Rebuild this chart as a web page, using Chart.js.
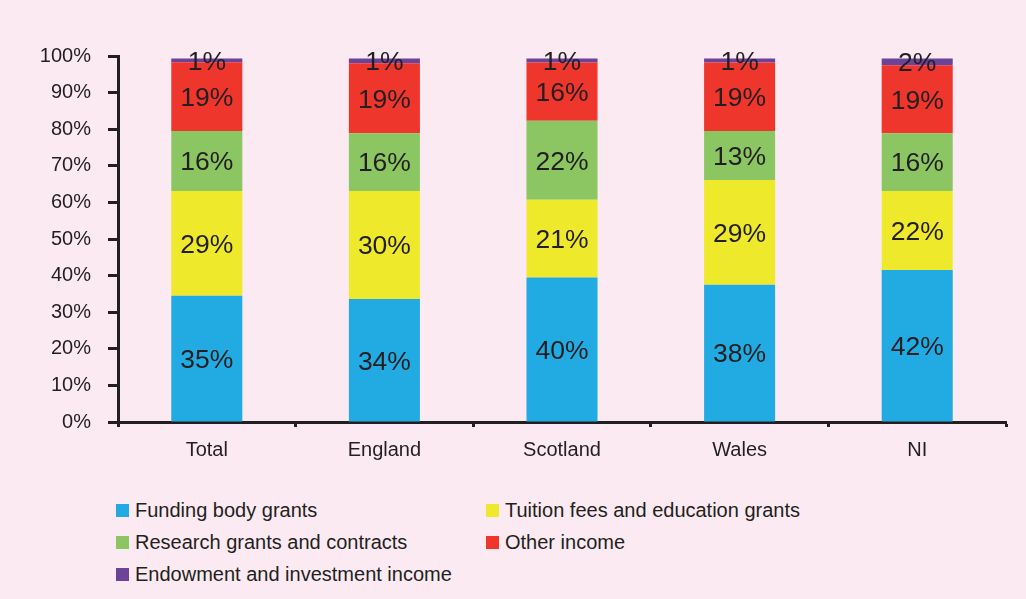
<!DOCTYPE html>
<html lang="en">
<head>
    <meta charset="UTF-8">
    <title>Income sources by nation</title>
    <script src="https://cdn.jsdelivr.net/npm/chart.js"></script>
    <style>
        body {
            margin: 0;
            padding: 0;
            background-color: #fbeaf2;
            font-family: "Liberation Sans", Arial, sans-serif;
        }
        .wrap {
            position: relative;
            width: 1026px;
            height: 599px;
            overflow: hidden;
        }
        #incomeChart {
            position: absolute;
            left: 0;
            top: 0;
        }
        .legend {
            position: absolute;
            left: 116px;
            top: 494px;
            display: grid;
            grid-template-columns: 370px auto;
            grid-auto-rows: 32px;
        }
        .legend .item {
            display: flex;
            align-items: center;
            font-size: 20px;
            color: #231f20;
        }
        .legend .swatch {
            width: 13px;
            height: 13px;
            margin-right: 6px;
            flex: none;
        }
    </style>
</head>
<body>
    <div class="wrap">
        <canvas id="incomeChart" width="1026" height="470"></canvas>
        <div class="legend" id="legend"></div>
    </div>
    <script>
        // shares of income (%), one array per source
        const nations = ['Total', 'England', 'Scotland', 'Wales', 'NI'];
        const fundingBody = [34.5, 33.6, 39.5, 37.5, 41.5];
        const tuitionFees = [28.6, 29.5, 21.2, 28.6, 21.6];
        const researchGrants = [16.4, 15.8, 21.6, 13.4, 15.8];
        const otherIncome = [18.8, 19.1, 15.9, 18.7, 18.6];
        const endowment = [1.0, 1.3, 1.1, 1.1, 1.8];

        const seriesNames = [
            'Funding body grants',
            'Tuition fees and education grants',
            'Research grants and contracts',
            'Other income',
            'Endowment and investment income'
        ];
        const seriesData = [fundingBody, tuitionFees, researchGrants, otherIncome, endowment];
        const seriesColors = ['#22abe2', '#efe92c', '#8cc663', '#ef362d', '#6b4399'];

        const ink = '#231f20';
        const font = '"Liberation Sans", Arial, sans-serif';

        // percentage written in the middle of every segment
        const segmentLabels = {
            id: 'segmentLabels',
            afterDatasetsDraw(chart) {
                const ctx = chart.ctx;
                ctx.save();
                ctx.font = '26.5px ' + font;
                ctx.fillStyle = ink;
                ctx.textAlign = 'center';
                ctx.textBaseline = 'middle';
                chart.data.datasets.forEach((ds, i) => {
                    chart.getDatasetMeta(i).data.forEach((bar, j) => {
                        const p = bar.getProps(['x', 'y', 'base'], true);
                        ctx.fillText(Math.round(ds.data[j]) + '%', p.x, (p.y + p.base) / 2 + 2);
                    });
                });
                ctx.restore();
            }
        };

        const chart = new Chart(document.getElementById('incomeChart'), {
            type: 'bar',
            data: {
                labels: nations,
                datasets: seriesNames.map((name, i) => ({
                    label: name,
                    data: seriesData[i],
                    backgroundColor: seriesColors[i],
                    borderWidth: 0,
                    categoryPercentage: 1,
                    barPercentage: 0.4
                }))
            },
            options: {
                responsive: false,
                animation: false,
                layout: { padding: { left: 0, right: 20, top: 56, bottom: 0 } },
                plugins: {
                    legend: { display: false },
                    tooltip: { enabled: false }
                },
                scales: {
                    x: {
                        stacked: true,
                        afterFit: s => { s.height = 48; },
                        grid: {
                            drawOnChartArea: false,
                            drawTicks: true,
                            tickLength: 5,
                            tickWidth: 3,
                            color: ink
                        },
                        border: { display: true, color: ink, width: 3 },
                        ticks: {
                            color: ink,
                            padding: 11,
                            font: { family: font, size: 20 }
                        }
                    },
                    y: {
                        stacked: true,
                        min: 0,
                        max: 100,
                        afterFit: s => { s.width = 118; },
                        grid: {
                            drawOnChartArea: false,
                            drawTicks: true,
                            tickLength: 10,
                            tickWidth: 3,
                            color: ink
                        },
                        border: { display: true, color: ink, width: 3 },
                        ticks: {
                            stepSize: 10,
                            color: ink,
                            padding: 17,
                            font: { family: font, size: 20 },
                            callback: v => v + '%'
                        }
                    }
                }
            },
            plugins: [segmentLabels]
        });

        // legend in two columns under the plot
        const legendBox = document.getElementById('legend');
        chart.data.datasets.forEach(ds => {
            const item = document.createElement('div');
            item.className = 'item';
            const sw = document.createElement('span');
            sw.className = 'swatch';
            sw.style.backgroundColor = ds.backgroundColor;
            item.appendChild(sw);
            item.appendChild(document.createTextNode(ds.label));
            legendBox.appendChild(item);
        });
    </script>
</body>
</html>
